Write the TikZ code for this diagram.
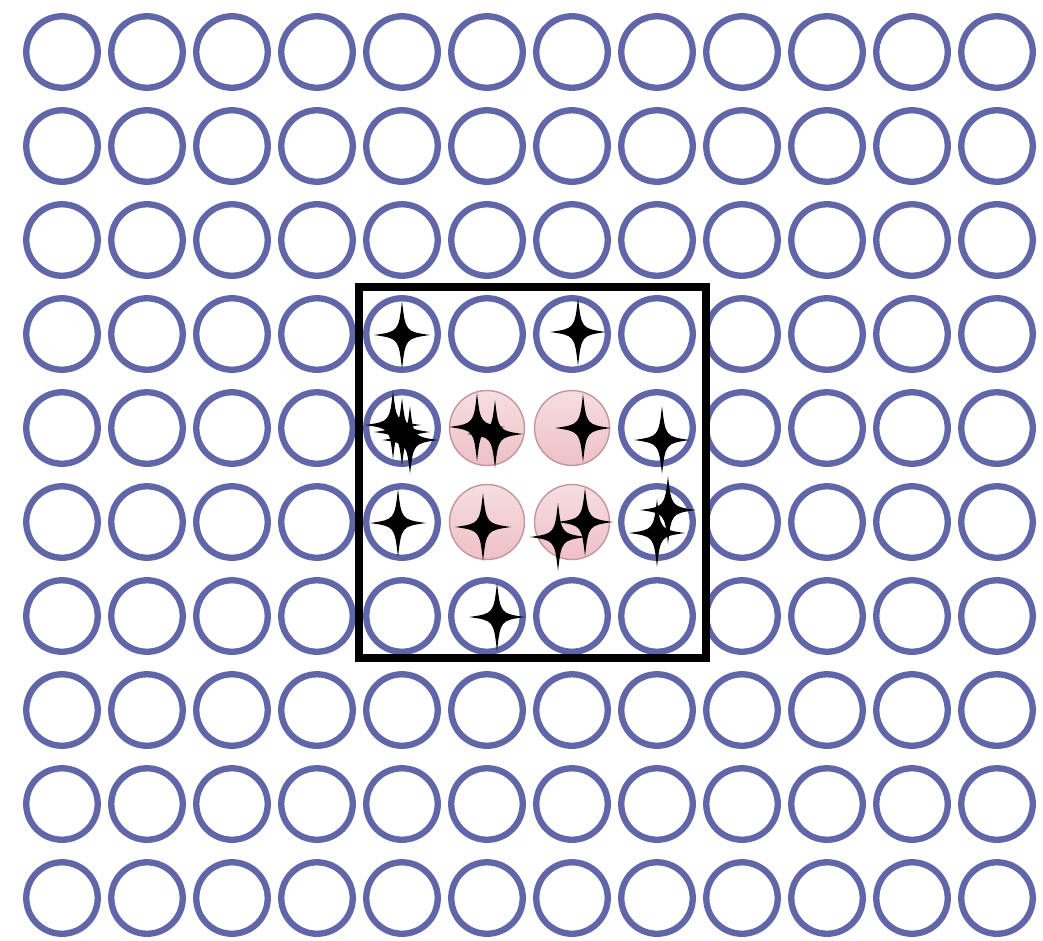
\documentclass[tikz,border=0pt]{standalone}
\usetikzlibrary{calc}
\definecolor{ringblue}{RGB}{96,102,168}
\definecolor{pinktop}{RGB}{246,222,225}
\definecolor{pinkbot}{RGB}{238,192,198}
\definecolor{pinkedge}{RGB}{196,150,158}
\tikzset{
  ring/.style={circle,draw=ringblue,line width=3.6pt,minimum size=1.43cm,inner sep=0pt},
  pinkdot/.style={circle,draw=pinkedge,line width=0.8pt,top color=pinktop,bottom color=pinkbot,minimum size=1.50cm,inner sep=0pt},
  pics/fourstar/.style={code={
    \fill[black] (0,-34) .. controls (3.5,-3.5) .. (28,0) .. controls (3.5,3.5) .. (0,34)
      .. controls (-3.5,3.5) .. (-28,0) .. controls (-3.5,-3.5) .. cycle;
  }}
}
\begin{document}
\begin{tikzpicture}[x=0.02cm,y=-0.02cm]
\useasboundingbox[fill=white] (0,0) rectangle (1043,940);
% grid of rings
\foreach \i in {0,...,11}{
  \foreach \j in {0,...,9}{
    \pgfmathtruncatemacro{\pk}{(\i==5 || \i==6) && (\j==4 || \j==5) ? 1 : 0}
    \ifnum\pk=1
      \node[pinkdot] (c-\i-\j) at ({62+85*\i},{52+94*\j}) {};
    \else
      \node[ring] (c-\i-\j) at ({62+85*\i},{52+94*\j}) {};
    \fi
  }
}
% frame
\draw[line width=4.5pt,line join=miter] (359,287) rectangle (706,658);
% stars
\pic at (402,335) {fourstar};
\pic at (578,332) {fourstar};
\pic at (393,425) {fourstar};
\pic at (410,440) {fourstar};
\pic at (402,432) {fourstar};
\pic at (477,427) {fourstar};
\pic at (495,434) {fourstar};
\pic at (583,428) {fourstar};
\pic at (662,440) {fourstar};
\pic at (398,523) {fourstar};
\pic at (483,527) {fourstar};
\pic at (558,537) {fourstar};
\pic at (585,522) {fourstar};
\pic at (668,510) {fourstar};
\pic at (657,533) {fourstar};
\pic at (497,617) {fourstar};
\end{tikzpicture}
\end{document}
